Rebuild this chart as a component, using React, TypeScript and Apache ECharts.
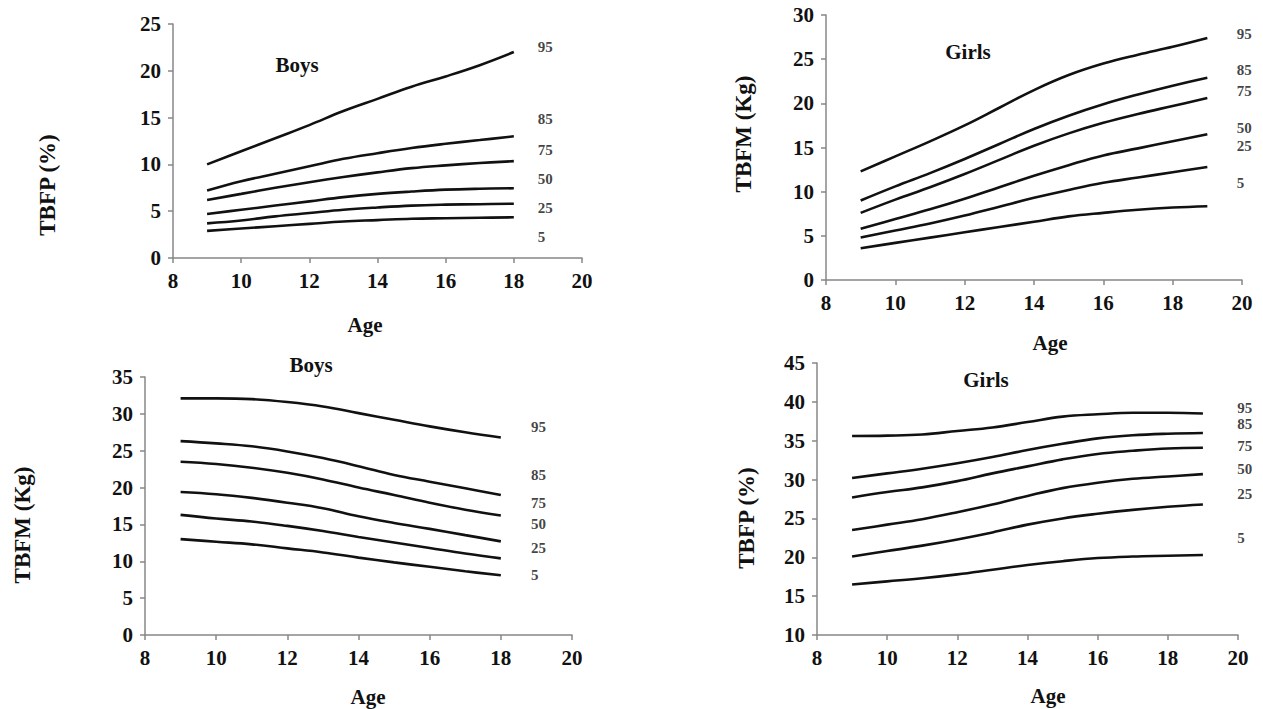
import React, { useEffect, useRef } from "react";
import * as echarts from "echarts";

// ---------- data ----------
const agesBoys = [9, 10, 11, 12, 13, 14, 15, 16, 17, 18];
const agesGirls = [9, 10, 11, 12, 13, 14, 15, 16, 17, 18, 19];
const percentiles = ["95", "85", "75", "50", "25", "5"];

// Panel 1: Boys TBFP (%)
const boysTbfp95 = [10.0, 11.4, 12.8, 14.2, 15.7, 17.0, 18.3, 19.4, 20.6, 22.0];
const boysTbfp85 = [7.2, 8.2, 9.0, 9.8, 10.6, 11.2, 11.75, 12.2, 12.6, 13.0];
const boysTbfp75 = [6.2, 6.85, 7.5, 8.1, 8.65, 9.15, 9.6, 9.9, 10.15, 10.35];
const boysTbfp50 = [4.7, 5.15, 5.6, 6.05, 6.5, 6.85, 7.1, 7.3, 7.4, 7.45];
const boysTbfp25 = [3.7, 4.0, 4.45, 4.8, 5.15, 5.4, 5.6, 5.7, 5.75, 5.8];
const boysTbfp5 = [2.9, 3.15, 3.4, 3.65, 3.9, 4.05, 4.2, 4.25, 4.3, 4.35];
const boysTbfpLabelX = [18.7, 18.7, 18.7, 18.7, 18.7, 18.7];
const boysTbfpLabelY = [22.5, 14.85, 11.5, 8.45, 5.35, 2.25];

// Panel 2: Girls TBFM (Kg)
const girlsTbfm95 = [12.3, 14.0, 15.7, 17.5, 19.5, 21.5, 23.2, 24.5, 25.5, 26.4, 27.4];
const girlsTbfm85 = [9.0, 10.6, 12.1, 13.7, 15.4, 17.1, 18.6, 19.9, 21.0, 22.0, 22.9];
const girlsTbfm75 = [7.6, 9.1, 10.5, 12.0, 13.6, 15.2, 16.6, 17.8, 18.8, 19.7, 20.6];
const girlsTbfm50 = [5.8, 6.9, 8.0, 9.2, 10.5, 11.8, 13.0, 14.1, 14.9, 15.7, 16.5];
const girlsTbfm25 = [4.8, 5.6, 6.4, 7.3, 8.3, 9.3, 10.2, 11.0, 11.6, 12.2, 12.8];
const girlsTbfm5 = [3.6, 4.2, 4.8, 5.4, 6.0, 6.6, 7.2, 7.6, 7.95, 8.2, 8.35];
const girlsTbfmLabelX = [19.85, 19.85, 19.85, 19.85, 19.85, 19.85];
const girlsTbfmLabelY = [27.9, 23.75, 21.45, 17.2, 15.15, 11.0];

// Panel 3: Boys TBFM (Kg)
const boysTbfm95 = [32.1, 32.1, 32.0, 31.6, 31.0, 30.1, 29.2, 28.3, 27.5, 26.8];
const boysTbfm85 = [26.3, 26.0, 25.6, 24.9, 24.0, 22.9, 21.7, 20.8, 19.9, 19.0];
const boysTbfm75 = [23.5, 23.2, 22.7, 22.0, 21.1, 20.0, 19.0, 17.95, 17.0, 16.2];
const boysTbfm50 = [19.4, 19.1, 18.6, 17.95, 17.2, 16.1, 15.2, 14.4, 13.55, 12.7];
const boysTbfm25 = [16.3, 15.8, 15.4, 14.8, 14.1, 13.3, 12.55, 11.8, 11.05, 10.4];
const boysTbfm5 = [13.0, 12.65, 12.3, 11.75, 11.2, 10.5, 9.85, 9.25, 8.65, 8.1];
const boysTbfmLabelX = [18.85, 18.85, 18.85, 18.85, 18.85, 18.85];
const boysTbfmLabelY = [28.2, 21.7, 17.9, 15.0, 11.75, 8.2];

// Panel 4: Girls TBFP (%)
const girlsTbfp95 = [35.6, 35.65, 35.8, 36.25, 36.7, 37.4, 38.1, 38.4, 38.6, 38.6, 38.5];
const girlsTbfp85 = [30.2, 30.8, 31.4, 32.1, 32.9, 33.8, 34.6, 35.3, 35.7, 35.9, 36.0];
const girlsTbfp75 = [27.7, 28.4, 29.0, 29.8, 30.8, 31.7, 32.6, 33.3, 33.7, 34.0, 34.1];
const girlsTbfp50 = [23.5, 24.2, 24.9, 25.8, 26.8, 27.9, 28.9, 29.6, 30.1, 30.4, 30.7];
const girlsTbfp25 = [20.1, 20.8, 21.5, 22.3, 23.2, 24.2, 25.0, 25.6, 26.1, 26.5, 26.8];
const girlsTbfp5 = [16.5, 16.9, 17.3, 17.8, 18.4, 19.0, 19.5, 19.9, 20.1, 20.2, 20.3];
const girlsTbfpLabelX = [19.98, 19.98, 19.98, 19.98, 19.98, 19.98];
const girlsTbfpLabelY = [39.25, 37.2, 34.35, 31.3, 28.1, 22.45];

const xMin = 8;
const xMax = 20;
const xStep = 2;

const FONT = '"Liberation Serif", "Times New Roman", serif';
const AXIS_GRAY = "#878787";
const INK = "#111111";

type Panel = {
  grid: { left: number; top: number; width: number; height: number };
  yMin: number;
  yMax: number;
  yStep: number;
  ages: number[];
  curves: number[][];
  labelX: number[];
  labelY: number[];
  title: string;
  titlePos: [number, number];
  yTitle: string;
  yTitlePos: [number, number];
  xTitlePos: [number, number];
};

const panels: Panel[] = [
  {
    grid: { left: 173, top: 24, width: 409, height: 234 },
    yMin: 0, yMax: 25, yStep: 5,
    ages: agesBoys,
    curves: [boysTbfp95, boysTbfp85, boysTbfp75, boysTbfp50, boysTbfp25, boysTbfp5],
    labelX: boysTbfpLabelX, labelY: boysTbfpLabelY,
    title: "Boys", titlePos: [297, 65],
    yTitle: "TBFP (%)", yTitlePos: [47, 185],
    xTitlePos: [365, 325],
  },
  {
    grid: { left: 826, top: 15, width: 416, height: 265 },
    yMin: 0, yMax: 30, yStep: 5,
    ages: agesGirls,
    curves: [girlsTbfm95, girlsTbfm85, girlsTbfm75, girlsTbfm50, girlsTbfm25, girlsTbfm5],
    labelX: girlsTbfmLabelX, labelY: girlsTbfmLabelY,
    title: "Girls", titlePos: [968, 52],
    yTitle: "TBFM (Kg)", yTitlePos: [743, 134],
    xTitlePos: [1050, 343],
  },
  {
    grid: { left: 145, top: 377, width: 427, height: 258 },
    yMin: 0, yMax: 35, yStep: 5,
    ages: agesBoys,
    curves: [boysTbfm95, boysTbfm85, boysTbfm75, boysTbfm50, boysTbfm25, boysTbfm5],
    labelX: boysTbfmLabelX, labelY: boysTbfmLabelY,
    title: "Boys", titlePos: [311, 365],
    yTitle: "TBFM (Kg)", yTitlePos: [22, 525],
    xTitlePos: [368, 697],
  },
  {
    grid: { left: 817, top: 363, width: 421, height: 272 },
    yMin: 10, yMax: 45, yStep: 5,
    ages: agesGirls,
    curves: [girlsTbfp95, girlsTbfp85, girlsTbfp75, girlsTbfp50, girlsTbfp25, girlsTbfp5],
    labelX: girlsTbfpLabelX, labelY: girlsTbfpLabelY,
    title: "Girls", titlePos: [986, 380],
    yTitle: "TBFP (%)", yTitlePos: [746, 518],
    xTitlePos: [1048, 696],
  },
];

function buildOption() {
  const grid: any[] = [];
  const xAxis: any[] = [];
  const yAxis: any[] = [];
  const series: any[] = [];
  const graphic: any[] = [];

  panels.forEach((p, i) => {
    grid.push({ ...p.grid, containLabel: false });
    xAxis.push({
      type: "value",
      gridIndex: i,
      min: xMin,
      max: xMax,
      interval: xStep,
      axisLine: { show: true, lineStyle: { color: AXIS_GRAY, width: 1.5 } },
      axisTick: { show: true, length: 5, lineStyle: { color: AXIS_GRAY, width: 1.5 } },
      splitLine: { show: false },
      axisLabel: {
        color: INK,
        fontFamily: FONT,
        fontWeight: "bold",
        fontSize: 21,
        margin: 12,
      },
    });
    yAxis.push({
      type: "value",
      gridIndex: i,
      min: p.yMin,
      max: p.yMax,
      interval: p.yStep,
      axisLine: { show: true, lineStyle: { color: AXIS_GRAY, width: 1.5 } },
      axisTick: { show: true, length: 5, lineStyle: { color: AXIS_GRAY, width: 1.5 } },
      splitLine: { show: false },
      axisLabel: {
        color: INK,
        fontFamily: FONT,
        fontWeight: "bold",
        fontSize: 21,
        margin: 12,
      },
    });

    p.curves.forEach((vals, k) => {
      series.push({
        type: "line",
        name: `P${percentiles[k]}-${i}`,
        xAxisIndex: i,
        yAxisIndex: i,
        smooth: 0.4,
        symbol: "none",
        lineStyle: { color: INK, width: 2.6 },
        data: p.ages.map((a, j) => [a, vals[j]]),
        silent: true,
      });
    });

    series.push({
      type: "scatter",
      xAxisIndex: i,
      yAxisIndex: i,
      symbolSize: 0,
      silent: true,
      data: percentiles.map((name, k) => [p.labelX[k], p.labelY[k], name]),
      label: {
        show: true,
        position: "right",
        distance: 0,
        formatter: (d: any) => d.data[2],
        color: INK,
        fontFamily: FONT,
        fontWeight: "bold",
        fontSize: 15,
        lineHeight: 12,
      },
    });

    graphic.push({
      type: "text",
      x: p.titlePos[0],
      y: p.titlePos[1],
      style: {
        text: p.title,
        fill: INK,
        font: `bold 21px ${FONT}`,
        align: "center",
        verticalAlign: "middle",
      },
    });
    graphic.push({
      type: "text",
      x: p.xTitlePos[0],
      y: p.xTitlePos[1],
      style: {
        text: "Age",
        fill: INK,
        font: `bold 21px ${FONT}`,
        align: "center",
        verticalAlign: "middle",
      },
    });
    graphic.push({
      type: "text",
      x: p.yTitlePos[0],
      y: p.yTitlePos[1],
      rotation: Math.PI / 2,
      style: {
        text: p.yTitle,
        fill: INK,
        font: `bold 23px ${FONT}`,
        align: "center",
        verticalAlign: "middle",
      },
    });
  });

  return {
    animation: false,
    backgroundColor: "#ffffff",
    grid,
    xAxis,
    yAxis,
    series,
    graphic,
  };
}

export default function App() {
  const ref = useRef<HTMLDivElement>(null);
  useEffect(() => {
    if (!ref.current) return;
    const chart = echarts.init(ref.current, undefined, { renderer: "svg" });
    chart.setOption(buildOption() as any);
    return () => chart.dispose();
  }, []);
  return (
    <div
      ref={ref}
      style={{ position: "fixed", left: 0, top: 0, width: 1263, height: 709, background: "#fff" }}
    />
  );
}
